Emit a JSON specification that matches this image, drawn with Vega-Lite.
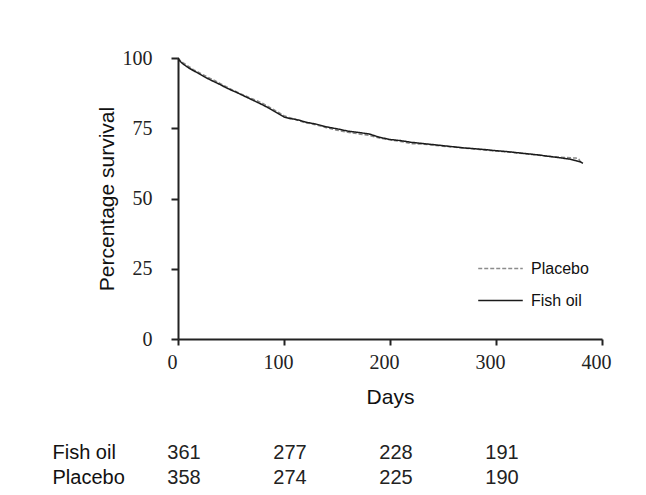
{
  "$schema": "https://vega.github.io/schema/vega-lite/v6.json",
  "background": "white",
  "padding": {"left": 52, "top": 48, "right": 10, "bottom": 0},
  "config": {"view": {"stroke": null}, "font": "Liberation Sans"},
  "datasets": {
    "curves": [
      {"group": "Placebo", "day": 0, "pct": 100}, {"group": "Placebo", "day": 2, "pct": 99.2}, {"group": "Placebo", "day": 5, "pct": 98.3},
      {"group": "Placebo", "day": 10, "pct": 97.0}, {"group": "Placebo", "day": 15, "pct": 95.8}, {"group": "Placebo", "day": 20, "pct": 94.8},
      {"group": "Placebo", "day": 25, "pct": 93.8}, {"group": "Placebo", "day": 30, "pct": 92.8}, {"group": "Placebo", "day": 35, "pct": 91.9},
      {"group": "Placebo", "day": 40, "pct": 90.9}, {"group": "Placebo", "day": 45, "pct": 89.9}, {"group": "Placebo", "day": 50, "pct": 88.9},
      {"group": "Placebo", "day": 55, "pct": 88.0}, {"group": "Placebo", "day": 60, "pct": 87.1}, {"group": "Placebo", "day": 65, "pct": 86.3},
      {"group": "Placebo", "day": 70, "pct": 85.5}, {"group": "Placebo", "day": 75, "pct": 84.7}, {"group": "Placebo", "day": 80, "pct": 83.8},
      {"group": "Placebo", "day": 85, "pct": 82.8}, {"group": "Placebo", "day": 90, "pct": 81.7}, {"group": "Placebo", "day": 95, "pct": 80.6},
      {"group": "Placebo", "day": 100, "pct": 79.5}, {"group": "Placebo", "day": 105, "pct": 78.8}, {"group": "Placebo", "day": 110, "pct": 78.3},
      {"group": "Placebo", "day": 115, "pct": 77.6}, {"group": "Placebo", "day": 120, "pct": 77.0}, {"group": "Placebo", "day": 130, "pct": 76.2},
      {"group": "Placebo", "day": 140, "pct": 75.2}, {"group": "Placebo", "day": 150, "pct": 74.3}, {"group": "Placebo", "day": 160, "pct": 73.6},
      {"group": "Placebo", "day": 170, "pct": 73.0}, {"group": "Placebo", "day": 180, "pct": 72.5}, {"group": "Placebo", "day": 190, "pct": 71.5},
      {"group": "Placebo", "day": 200, "pct": 70.9}, {"group": "Placebo", "day": 210, "pct": 70.3}, {"group": "Placebo", "day": 220, "pct": 69.5},
      {"group": "Placebo", "day": 230, "pct": 69.4}, {"group": "Placebo", "day": 240, "pct": 69.0}, {"group": "Placebo", "day": 250, "pct": 68.6},
      {"group": "Placebo", "day": 260, "pct": 68.3}, {"group": "Placebo", "day": 270, "pct": 67.9}, {"group": "Placebo", "day": 280, "pct": 67.6},
      {"group": "Placebo", "day": 290, "pct": 67.2}, {"group": "Placebo", "day": 300, "pct": 66.9}, {"group": "Placebo", "day": 310, "pct": 66.6},
      {"group": "Placebo", "day": 320, "pct": 66.2}, {"group": "Placebo", "day": 330, "pct": 65.8}, {"group": "Placebo", "day": 340, "pct": 65.4},
      {"group": "Placebo", "day": 350, "pct": 65.0}, {"group": "Placebo", "day": 360, "pct": 64.7}, {"group": "Placebo", "day": 370, "pct": 64.5},
      {"group": "Placebo", "day": 375, "pct": 64.4}, {"group": "Placebo", "day": 378, "pct": 64.2}, {"group": "Placebo", "day": 380, "pct": 62.8},
      {"group": "Fish oil", "day": 0, "pct": 100}, {"group": "Fish oil", "day": 2, "pct": 98.8}, {"group": "Fish oil", "day": 5, "pct": 97.8},
      {"group": "Fish oil", "day": 10, "pct": 96.5}, {"group": "Fish oil", "day": 15, "pct": 95.4}, {"group": "Fish oil", "day": 20, "pct": 94.4},
      {"group": "Fish oil", "day": 25, "pct": 93.3}, {"group": "Fish oil", "day": 30, "pct": 92.3}, {"group": "Fish oil", "day": 35, "pct": 91.4},
      {"group": "Fish oil", "day": 40, "pct": 90.5}, {"group": "Fish oil", "day": 45, "pct": 89.5}, {"group": "Fish oil", "day": 50, "pct": 88.6},
      {"group": "Fish oil", "day": 55, "pct": 87.8}, {"group": "Fish oil", "day": 60, "pct": 86.9}, {"group": "Fish oil", "day": 65, "pct": 86.0},
      {"group": "Fish oil", "day": 70, "pct": 85.1}, {"group": "Fish oil", "day": 75, "pct": 84.2}, {"group": "Fish oil", "day": 80, "pct": 83.3},
      {"group": "Fish oil", "day": 85, "pct": 82.3}, {"group": "Fish oil", "day": 90, "pct": 81.2}, {"group": "Fish oil", "day": 95, "pct": 80.1},
      {"group": "Fish oil", "day": 100, "pct": 79.0}, {"group": "Fish oil", "day": 105, "pct": 78.5}, {"group": "Fish oil", "day": 110, "pct": 78.2},
      {"group": "Fish oil", "day": 115, "pct": 77.8}, {"group": "Fish oil", "day": 120, "pct": 77.2}, {"group": "Fish oil", "day": 130, "pct": 76.5},
      {"group": "Fish oil", "day": 140, "pct": 75.5}, {"group": "Fish oil", "day": 150, "pct": 74.8}, {"group": "Fish oil", "day": 160, "pct": 74.0},
      {"group": "Fish oil", "day": 170, "pct": 73.5}, {"group": "Fish oil", "day": 180, "pct": 73.0}, {"group": "Fish oil", "day": 190, "pct": 71.8},
      {"group": "Fish oil", "day": 200, "pct": 71.0}, {"group": "Fish oil", "day": 210, "pct": 70.6}, {"group": "Fish oil", "day": 220, "pct": 70.0},
      {"group": "Fish oil", "day": 230, "pct": 69.6}, {"group": "Fish oil", "day": 240, "pct": 69.2}, {"group": "Fish oil", "day": 250, "pct": 68.8},
      {"group": "Fish oil", "day": 260, "pct": 68.4}, {"group": "Fish oil", "day": 270, "pct": 68.0}, {"group": "Fish oil", "day": 280, "pct": 67.7},
      {"group": "Fish oil", "day": 290, "pct": 67.4}, {"group": "Fish oil", "day": 300, "pct": 67.0}, {"group": "Fish oil", "day": 310, "pct": 66.7},
      {"group": "Fish oil", "day": 320, "pct": 66.3}, {"group": "Fish oil", "day": 330, "pct": 65.9}, {"group": "Fish oil", "day": 340, "pct": 65.5},
      {"group": "Fish oil", "day": 350, "pct": 65.0}, {"group": "Fish oil", "day": 360, "pct": 64.5}, {"group": "Fish oil", "day": 370, "pct": 64.0},
      {"group": "Fish oil", "day": 375, "pct": 63.5}, {"group": "Fish oil", "day": 380, "pct": 63.0}, {"group": "Fish oil", "day": 382, "pct": 62.5}
    ],
    "atrisk": [
      {"group": "Fish oil", "day": 0, "n": 361}, {"group": "Fish oil", "day": 100, "n": 277},
      {"group": "Fish oil", "day": 200, "n": 228}, {"group": "Fish oil", "day": 300, "n": 191},
      {"group": "Placebo", "day": 0, "n": 358}, {"group": "Placebo", "day": 100, "n": 274},
      {"group": "Placebo", "day": 200, "n": 225}, {"group": "Placebo", "day": 300, "n": 190}
    ]
  },
  "spacing": 33,
  "vconcat": [
    {
      "width": 424,
      "height": 281,
      "data": {"name": "curves"},
      "mark": {"type": "line", "strokeWidth": 1.5, "clip": false},
      "encoding": {
        "x": {
          "field": "day", "type": "quantitative",
          "scale": {"domain": [0, 400], "nice": false},
          "axis": {
            "values": [0, 100, 200, 300, 400], "title": "Days", "grid": false,
            "labelFont": "Liberation Serif", "labelFontSize": 20, "labelColor": "#222",
            "labelFlush": false, "labelOffset": -6, "labelPadding": 7,
            "domainColor": "#222", "domainWidth": 2, "tickColor": "#222", "tickWidth": 2, "tickSize": 6,
            "titleFont": "Liberation Sans", "titleFontSize": 21, "titleFontWeight": "normal", "titleColor": "#111", "titlePadding": 14
          }
        },
        "y": {
          "field": "pct", "type": "quantitative",
          "scale": {"domain": [0, 100], "nice": false},
          "axis": {
            "values": [0, 25, 50, 75, 100], "title": "Percentage survival", "grid": false,
            "labelFont": "Liberation Serif", "labelFontSize": 20, "labelColor": "#222", "labelPadding": 19,
            "labelFlush": false,
            "domainColor": "#222", "domainWidth": 2, "tickColor": "#222", "tickWidth": 2, "tickSize": 7,
            "titleFont": "Liberation Sans", "titleFontSize": 21, "titleFontWeight": "normal", "titleColor": "#111", "titlePadding": 5
          }
        },
        "color": {
          "field": "group", "type": "nominal",
          "scale": {"domain": ["Placebo", "Fish oil"], "range": ["#8c8c8c", "#1a1a1a"]},
          "legend": {
            "orient": "none", "legendX": 305, "legendY": 193, "title": null,
            "symbolType": "M-1.35,0H1.35", "symbolSize": 1089, "symbolStrokeWidth": 1.5,
            "labelOffset": 13, "labelFont": "Liberation Sans", "labelFontSize": 16, "labelColor": "#111",
            "rowPadding": 6, "padding": 0
          }
        },
        "strokeDash": {
          "field": "group", "type": "nominal",
          "scale": {"domain": ["Placebo", "Fish oil"], "range": [[4, 2], [1, 0]]}
        }
      }
    },
    {
      "width": 424,
      "height": 50,
      "data": {"name": "atrisk"},
      "mark": {"type": "text", "font": "Liberation Sans", "fontSize": 20, "color": "#222", "align": "center", "dx": 6},
      "encoding": {
        "x": {"field": "day", "type": "quantitative", "scale": {"domain": [0, 400], "nice": false}, "axis": null},
        "y": {
          "field": "group", "type": "nominal", "sort": ["Fish oil", "Placebo"],
          "scale": {"paddingInner": 0, "paddingOuter": 0},
          "axis": {
            "title": null, "domain": false, "ticks": false, "tickSize": 0,
            "labelAlign": "left", "labelPadding": 126,
            "labelFont": "Liberation Sans", "labelFontSize": 20, "labelColor": "#111"
          }
        },
        "text": {"field": "n", "type": "quantitative"}
      }
    }
  ]
}
